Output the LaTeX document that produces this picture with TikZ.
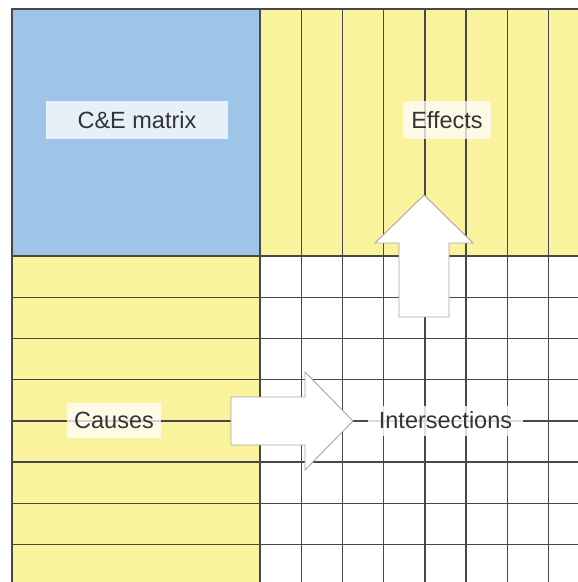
\documentclass[tikz,border=0pt]{standalone}
\usepackage{fontspec}
\setmainfont{Liberation Sans}
\setsansfont{Liberation Sans}
\usepackage{xcolor}
\definecolor{CEBlue}{RGB}{158,197,232}
\definecolor{PadYellow}{RGB}{250,243,157}
\definecolor{RuleGray}{RGB}{72,72,72}
\definecolor{InkGray}{RGB}{52,52,52}
\usetikzlibrary{positioning,calc}

\begin{document}
\begin{tikzpicture}[
  x=1pt,y=-1pt,font=\sffamily\fontsize{23.5}{28}\selectfont,
  ln/.style={draw=RuleGray,line width=1.4pt},
  blk/.style={draw=black!35,fill=white,line width=0.9pt,line join=miter},
  lbl/.style={fill=white,fill opacity=0.75,text opacity=1,text=InkGray,
    inner sep=0pt,minimum height=38}]
  \useasboundingbox (0,0) rectangle (578,582);
  \fill[CEBlue] (12,9) rectangle (260,256);
  \fill[PadYellow] (260,9) rectangle (578,256);
  \fill[PadYellow] (12,256) rectangle (260,582);
  \foreach \k in {1,...,7} {
    \draw[ln] ({260+41.2*\k},9) -- ({260+41.2*\k},582);
    \draw[ln] (12,{256+41.2*\k}) -- (578,{256+41.2*\k});
  }
  \draw[ln] (578,9) -- (12,9) -- (12,582);
  \draw[ln] (260,9) -- (260,582);
  \draw[ln] (12,256) -- (578,256);
  \draw[blk] (231,397) -- (305,397) -- (305,372) -- (353,421) -- (305,470) -- (305,445) -- (231,445) -- cycle;
  \draw[blk] (399,317) -- (399,243) -- (375,243) -- (424,195) -- (473,243) -- (449,243) -- (449,317) -- cycle;
  \node[lbl,minimum width=182] (cem) at (137,120) {C\&E matrix};
  \node[lbl,minimum width=88] (eff) at (447,120) {Effects};
  \node[lbl,minimum width=94,minimum height=35] (cau) at (114,420) {Causes};
  \node[lbl,minimum width=155,minimum height=30,fill opacity=0.82] (inter) at (445.5,420.5) {Intersections};
\end{tikzpicture}
\end{document}
